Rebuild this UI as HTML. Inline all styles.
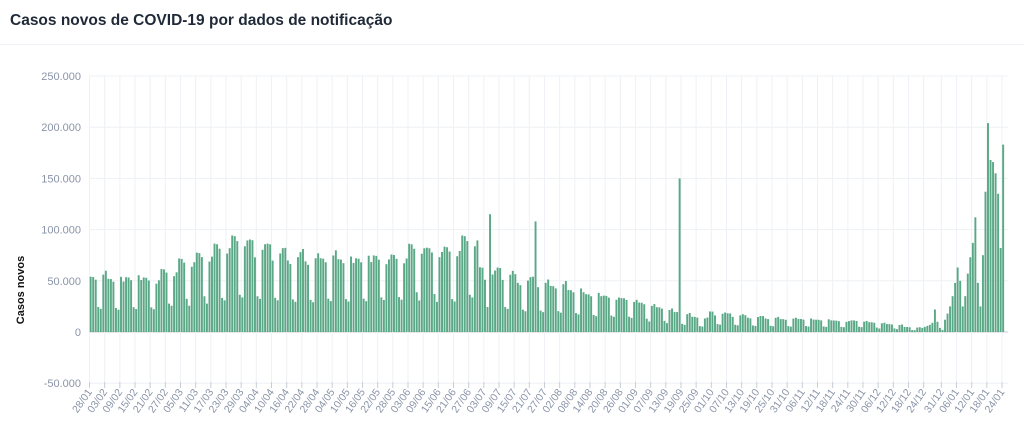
<!DOCTYPE html>
<html><head><meta charset="utf-8"><style>
body{margin:0;background:#fff;width:1024px;height:434px;overflow:hidden;font-family:"Liberation Sans",sans-serif}
</style></head><body>
<svg id="s" width="1024" height="434" xmlns="http://www.w3.org/2000/svg" font-family="Liberation Sans, sans-serif">
<text x="10" y="25" font-size="15.5" font-weight="bold" fill="#1f2937">Casos novos de COVID-19 por dados de notificação</text>
<line x1="0" y1="44.5" x2="1024" y2="44.5" stroke="#eef1f5"/>
<text transform="translate(24,290) rotate(-90)" text-anchor="middle" font-size="11" font-weight="bold" fill="#111">Casos novos</text>
<g id="g"></g>
</svg>
<script>
const g=document.getElementById('g');let h='';
const x0=89.5,x1=1002,N=362,dx=(x1-x0)/(N-1),z=332,k=1.024/1000;
const ticks=[[250000,'250.000'],[200000,'200.000'],[150000,'150.000'],[100000,'100.000'],[50000,'50.000'],[0,'0'],[-50000,'-50.000']];
for(const [v,t] of ticks){const y=z-v*k;h+=`<line x1="${x0}" x2="1008" y1="${y}" y2="${y}" stroke="${v==0?'#c9ced6':'#eef1f5'}"/>`;h+=`<text x="81" y="${y+4}" text-anchor="end" font-size="11" fill="#8a94a8">${t}</text>`;}
const labs="28/01,03/02,09/02,15/02,21/02,27/02,05/03,11/03,17/03,23/03,29/03,04/04,10/04,16/04,22/04,28/04,04/05,10/05,16/05,22/05,28/05,03/06,09/06,15/06,21/06,27/06,03/07,09/07,15/07,21/07,27/07,02/08,08/08,14/08,20/08,26/08,01/09,07/09,13/09,19/09,25/09,01/10,07/10,13/10,19/10,25/10,31/10,06/11,12/11,18/11,24/11,30/11,06/12,12/12,18/12,24/12,31/12,06/01,12/01,18/01,24/01".split(',');
labs.forEach((l,i)=>{let d=i*6;if(i>=56)d+=1;const x=x0+d*dx;h+=`<line x1="${x}" x2="${x}" y1="76" y2="384" stroke="#eef1f5"/>`;h+=`<line x1="${x}" x2="${x}" y1="382" y2="388" stroke="#c9ced6"/>`;h+=`<text transform="translate(${x+3},392) rotate(-55)" text-anchor="end" font-size="10.5" fill="#8a94a8">${l}</text>`;});
const wk=[60,57,58,57,65,75,80,88,95,90,85,80,78,80,78,78,80,80,90,85,85,95,63,62,55,52,50,45,40,38,35,30,25,20,15,20,18,16,15,14,14,13,12,12,10,8,5,4,5,5];
const pat=[1,0.97,0.9,0.42,0.38,0.92,0.96];
const v=[];
for(let d=0;d<N;d++){const w=Math.min(Math.floor(d/7),wk.length-1);let r=((d*7919)%13)/13*0.15+0.9;v.push(wk[w]*pat[d%7]*r*1000);}
v[158]=115000;v[176]=108000;v[233]=150000;v[234]=8000;
const tail=[4,5,6,7,9,22,10,4,2,12,18,25,35,48,63,50,25,35,57,73,87,112,48,25,75,137,204,168,166,155,135,82,183];
for(let i=0;i<tail.length;i++)v[N-tail.length+i]=tail[i]*1000;
v.forEach((val,d)=>{const x=x0+d*dx;const hh=val*k;h+=`<rect x="${(x+0.2).toFixed(2)}" y="${(z-hh).toFixed(2)}" width="${(dx-0.6).toFixed(2)}" height="${hh.toFixed(2)}" fill="#5aa886"/>`;});
g.innerHTML=h;
</script>
</body></html>
